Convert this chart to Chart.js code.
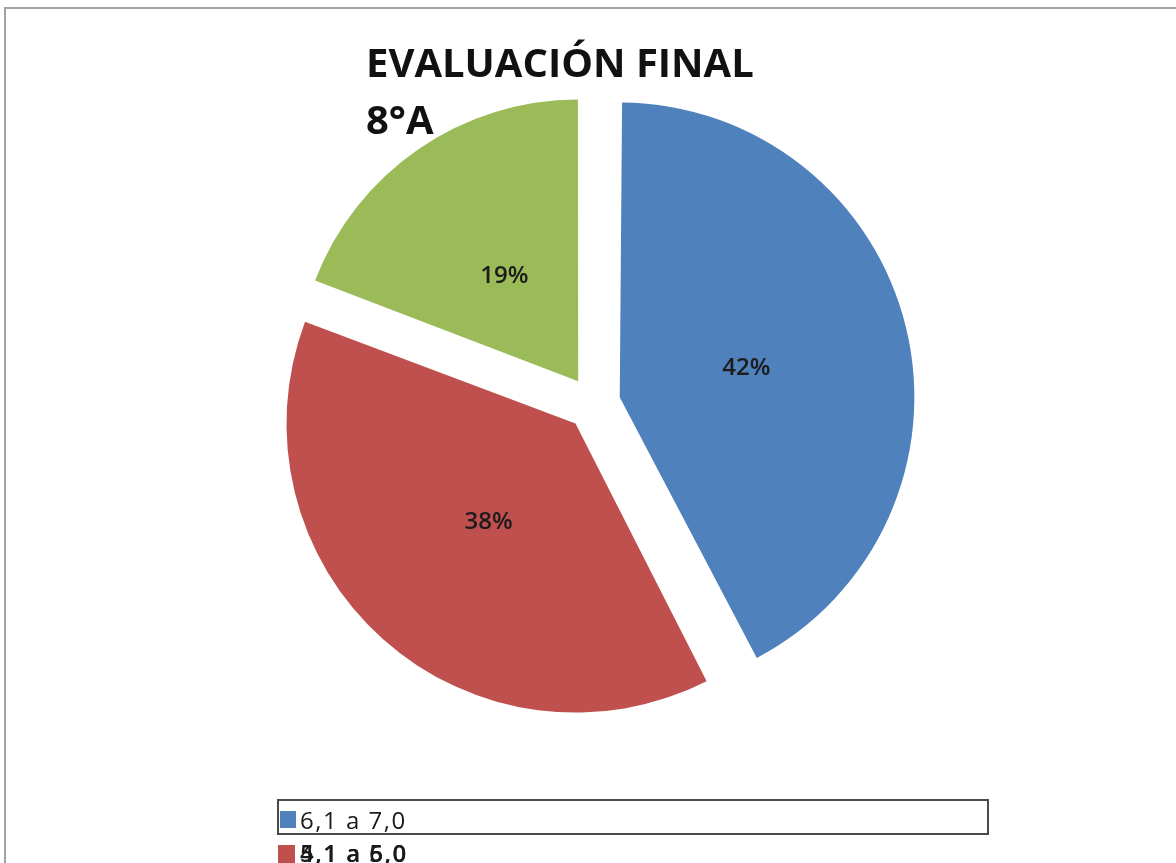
<!DOCTYPE html>
<html>
<head>
<meta charset="utf-8">
<script src="https://cdn.jsdelivr.net/npm/chart.js@4"></script>
<style>
  html, body { margin: 0; padding: 0; background: #fff; overflow: hidden; }
  #wrap { position: relative; width: 1176px; height: 863px; }
</style>
</head>
<body>
<div id="wrap"><canvas id="pieChart" width="1176" height="863"></canvas></div>
<script>
const titleLines = ['EVALUACIÓN FINAL', '8°A']
const categories = ['6,1 a 7,0', '5,1 a 6,0', '4,1 a 5,0']
const percents = [42, 38, 19]
const colors = ['#4F81BD', '#C0504D', '#9BBB59']

// chart.js moves an exploded arc by offset / 4 (and grows wide arcs a bit)
const EXPLODE = 108

// frame, title, slice labels and the (overflowing) legend box
const decorPlugin = {
  id: 'decor',
  beforeDraw(chart) {
    const ctx = chart.ctx
    ctx.save()
    ctx.strokeStyle = '#a3a3a3'
    ctx.lineWidth = 2
    ctx.beginPath()
    ctx.moveTo(5, 863)
    ctx.lineTo(5, 8)
    ctx.lineTo(1176, 8)
    ctx.stroke()
    ctx.restore()
  },
  afterDatasetsDraw(chart) {
    const ctx = chart.ctx
    const meta = chart.getDatasetMeta(0)
    ctx.save()
    ctx.fillStyle = '#1c1c1c'
    ctx.font = '600 24px "Open Sans"'
    ctx.textAlign = 'center'
    ctx.textBaseline = 'middle'
    meta.data.forEach((arc, i) => {
      const { x, y, startAngle, endAngle, outerRadius } = arc.getProps(['x', 'y', 'startAngle', 'endAngle', 'outerRadius'])
      const mid = (startAngle + endAngle) / 2
      const r = EXPLODE / 4 + outerRadius * 0.465
      ctx.fillText(percents[i] + '%', x + Math.cos(mid) * r, y + Math.sin(mid) * r + 2)
    })
    ctx.restore()
  },
  afterDraw(chart) {
    const ctx = chart.ctx
    ctx.save()
    // title
    ctx.fillStyle = '#111'
    ctx.font = 'bold 40px "Open Sans"'
    ctx.textBaseline = 'alphabetic'
    ctx.fillText(titleLines[0], 366, 77)
    ctx.fillText(titleLines[1], 366, 134)

    // legend box
    ctx.strokeStyle = '#4a4a4a'
    ctx.lineWidth = 2
    ctx.strokeRect(278, 800, 710, 34)
    ctx.font = '24px "Open Sans"'
    ctx.letterSpacing = '1.5px'
    // row 0
    ctx.fillStyle = colors[0]
    ctx.fillRect(280, 811, 16, 17)
    ctx.fillStyle = '#1a1a1a'
    ctx.fillText(categories[0], 300, 829)
    // rows 1 and 2 end up on top of each other
    ctx.font = '600 24px "Open Sans"'
    for (const i of [2, 1]) {
      ctx.fillStyle = colors[i]
      ctx.fillRect(278, 845, 17, 18)
      ctx.fillStyle = '#1a1a1a'
      ctx.fillText(categories[i], 300, 862)
    }
    ctx.restore()
  },
}

const ctx = document.getElementById('pieChart').getContext('2d')
new Chart(ctx, {
  type: 'pie',
  data: {
    labels: categories,
    datasets: [{
      data: percents,
      backgroundColor: colors,
      borderWidth: 0,
      offset: EXPLODE,
      radius: 280,
    }],
  },
  options: {
    responsive: false,
    animation: false,
    layout: { padding: { left: 11, right: 0, top: 0, bottom: 56 } },
    plugins: {
      legend: { display: false },
      title: { display: false },
      tooltip: { enabled: false },
    },
  },
  plugins: [decorPlugin],
})
</script>
</body>
</html>
